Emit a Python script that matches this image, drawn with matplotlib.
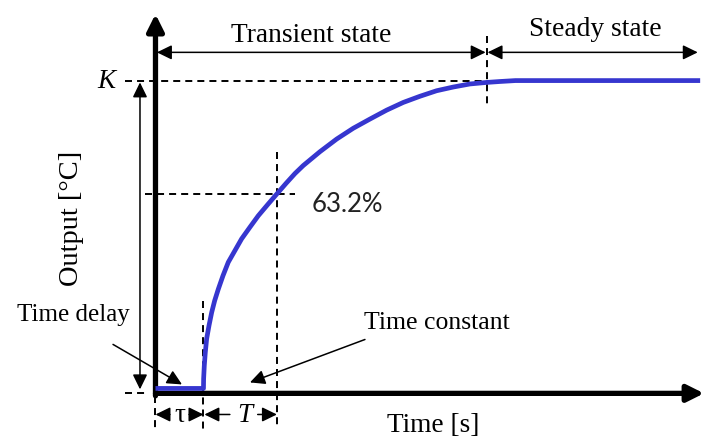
import matplotlib.pyplot as plt

# first-order response with dead time (time in s, output normalised to K)
tau = 1.0          # time delay
T = 1.53           # time constant
K = 1.0            # final value
t_steady = 6.9     # end of transient state
level_632 = 0.632

time = [0.0, 1.0, 1.003, 1.017, 1.038, 1.066, 1.115, 1.171, 1.233, 1.310,
        1.406, 1.517, 1.656, 1.795, 1.969, 2.142, 2.337, 2.53, 2.72, 2.906,
        3.079, 3.427, 3.775, 4.12, 4.469, 4.817, 5.163, 5.51, 5.858, 6.204,
        6.552, 6.9, 7.177, 7.5, 11.35]
output = [0.0, 0.0, 0.031, 0.074, 0.117, 0.161, 0.204, 0.247, 0.285, 0.323,
          0.366, 0.410, 0.448, 0.486, 0.524, 0.561, 0.597, 0.632, 0.666, 0.698,
          0.724, 0.769, 0.810, 0.845, 0.875, 0.904, 0.929, 0.949, 0.967, 0.979,
          0.989, 0.994, 0.997, 1.0, 1.0]

serif = 'Liberation Serif'

fig = plt.figure(figsize=(7.04, 4.39), dpi=100)
ax = fig.add_axes([0, 0, 1, 1])
ax.set_xlim(-3.24, 11.43)
ax.set_ylim(-0.161, 1.265)
ax.axis('off')

dash = dict(color='black', lw=1.4, linestyle=(0, (3.6, 2.6)))
thin = dict(arrowstyle='<|-|>,head_length=0.45,head_width=0.22',
            mutation_scale=20, color='black', lw=1.1, shrinkA=0, shrinkB=0)
single = dict(arrowstyle='-|>,head_length=0.45,head_width=0.22',
              mutation_scale=20, color='black', lw=1.1, shrinkA=0, shrinkB=0)
thick = dict(arrowstyle='-|>,head_length=0.5,head_width=0.25',
             mutation_scale=20, color='black', lw=3.8, shrinkA=0, shrinkB=0)

# axes with arrow heads
axis_y = -0.016
ax.annotate('', xy=(0, 1.216), xytext=(0, axis_y - 0.008), arrowprops=thick)
ax.annotate('', xy=(11.43, axis_y), xytext=(0, axis_y), arrowprops=thick)

# response curve
ax.plot(time, output, color='#3636cf', lw=3.4, solid_capstyle='butt',
        solid_joinstyle='round', zorder=5)

# guide lines
ax.plot([-0.635, t_steady + 0.03], [K, K], **dash)
ax.plot([-0.635, -0.16], [axis_y, axis_y], **dash)
ax.plot([-0.22, tau + T + 0.37], [level_632, level_632], **dash)
ax.plot([tau + T, tau + T], [0.767, -0.133], **dash)
ax.plot([tau, tau], [0.284, -0.133], **dash)
ax.plot([0, 0], [-0.025, -0.133], **dash)
ax.plot([t_steady, t_steady], [1.146, 0.913], **dash)

# state arrows
arrow_y = 1.0917
ax.annotate('', xy=(0.03, arrow_y), xytext=(t_steady - 0.02, arrow_y),
            arrowprops=thin)
ax.annotate('', xy=(t_steady + 0.02, arrow_y), xytext=(11.3, arrow_y),
            arrowprops=thin)
ax.text(3.24, 1.128, 'Transient state', family=serif, fontsize=19.8,
        ha='center', va='baseline')
ax.text(9.156, 1.149, 'Steady state', family=serif, fontsize=19.8,
        ha='center', va='baseline')

# output range
ax.annotate('', xy=(-0.323, 0.994), xytext=(-0.323, -0.003), arrowprops=thin)
ax.text(-1.03, K, 'K', family=serif, style='italic', fontsize=19.5,
        ha='center', va='center')
ax.text(-1.76, 0.556, 'Output [°C]', family=serif, fontsize=20.5,
        rotation=90, ha='center', va='center')
ax.text(3.26, 0.5756, '63.2%', family='Lato', fontsize=18.5, color='#222222',
        ha='left', va='baseline')

# tau and T spans
span_y = -0.0846
ax.annotate('', xy=(0, span_y), xytext=(0.3, span_y), arrowprops=single)
ax.annotate('', xy=(tau, span_y), xytext=(tau - 0.3, span_y), arrowprops=single)
ax.text(tau / 2, span_y, 'τ', family=serif, fontsize=19.5, ha='center', va='center')
ax.annotate('', xy=(tau + 0.02, span_y), xytext=(tau + 0.55, span_y), arrowprops=single)
ax.annotate('', xy=(tau + T, span_y), xytext=(tau + T - 0.4, span_y), arrowprops=single)
ax.text(tau + 0.86, span_y, 'T', family=serif, style='italic', fontsize=19.5,
        ha='center', va='center')

# callouts
ax.text(-1.72, 0.241, 'Time delay', family=serif, fontsize=18,
        ha='center', va='center')
ax.annotate('', xy=(0.552, 0.013), xytext=(-0.885, 0.143), arrowprops=single)
ax.text(5.86, 0.215, 'Time constant', family=serif, fontsize=18.5,
        ha='center', va='center')
ax.annotate('', xy=(1.969, 0.0195), xytext=(4.365, 0.159), arrowprops=single)
ax.text(5.78, -0.117, 'Time [s]', family=serif, fontsize=19.7,
        ha='center', va='center')

fig.savefig('out.png', dpi=100)
